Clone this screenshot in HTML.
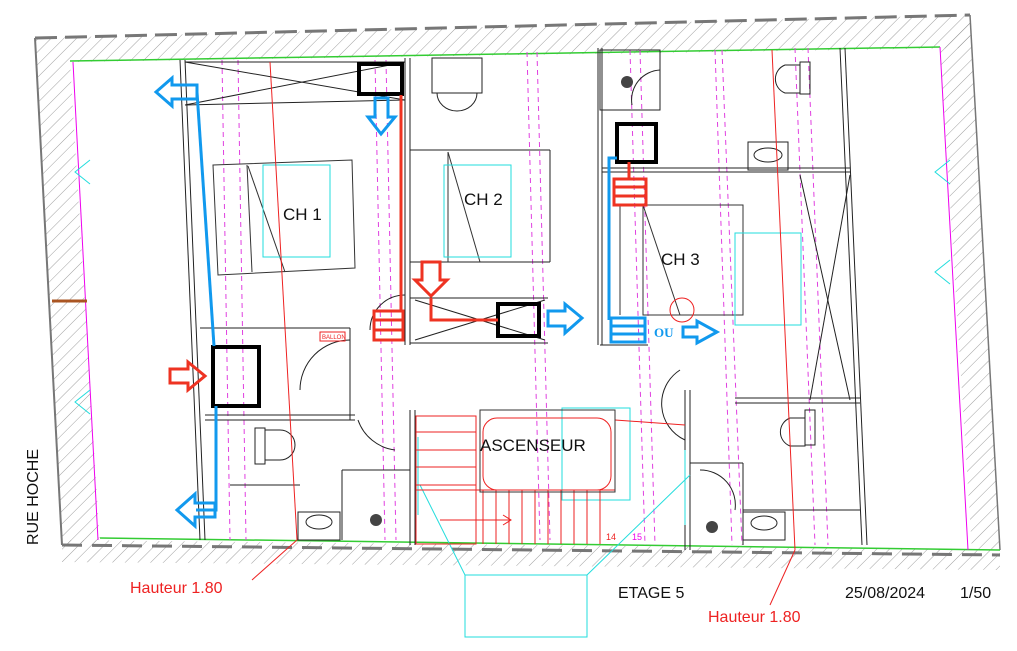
<!DOCTYPE html>
<html><head><meta charset="utf-8"><style>html,body{margin:0;padding:0;background:#fff}svg{display:block}</style></head><body>
<svg width="1017" height="651" viewBox="0 0 1017 651" xmlns="http://www.w3.org/2000/svg" font-family="Liberation Sans, sans-serif">
<defs>
<pattern id="h" width="9" height="9" patternUnits="userSpaceOnUse" patternTransform="rotate(45)"><line x1="0" y1="0" x2="0" y2="9" stroke="#888" stroke-width="0.8"/></pattern>
</defs>
<rect width="1017" height="651" fill="#fff"/>
<!-- hatched walls -->
<polygon points="35,38 970,15 970,48 70,62" fill="url(#h)"/>
<polygon points="35,38 70,62 100,545 62,545" fill="url(#h)"/>
<polygon points="940,45 970,15 1000,550 972,550" fill="url(#h)"/>
<polygon points="62,540 1000,550 1000,570 62,562" fill="url(#h)"/>
<line x1="35" y1="38" x2="970" y2="15" stroke="#777" stroke-width="3" stroke-dasharray="22,8"/>
<line x1="35" y1="38" x2="62" y2="545" stroke="#777" stroke-width="2"/>
<line x1="970" y1="15" x2="1000" y2="550" stroke="#777" stroke-width="1.5"/>
<line x1="62" y1="545" x2="1000" y2="555" stroke="#777" stroke-width="3" stroke-dasharray="20,10"/>
<!-- green lines -->
<line x1="70" y1="61" x2="940" y2="47" stroke="#3c3" stroke-width="1.5"/>
<line x1="100" y1="538" x2="1000" y2="550" stroke="#3c3" stroke-width="1.5"/>
<!-- magenta outer -->
<line x1="73" y1="62" x2="98" y2="540" stroke="#e0e" stroke-width="1"/>
<line x1="940" y1="47" x2="968" y2="550" stroke="#e0e" stroke-width="1"/>
<!-- magenta dashed verticals -->
<g stroke="#e040e0" stroke-width="1" stroke-dasharray="5,4">
<line x1="222" y1="60" x2="230" y2="540"/><line x1="238" y1="60" x2="246" y2="540"/>
<line x1="375" y1="60" x2="385" y2="540"/><line x1="386" y1="60" x2="396" y2="540"/>
<line x1="527" y1="52" x2="540" y2="540"/><line x1="537" y1="52" x2="550" y2="540"/>
<line x1="630" y1="50" x2="645" y2="545"/><line x1="640" y1="50" x2="655" y2="545"/>
<line x1="715" y1="50" x2="732" y2="545"/><line x1="722" y1="50" x2="742" y2="545"/>
<line x1="795" y1="48" x2="815" y2="545"/><line x1="808" y1="48" x2="828" y2="545"/>
</g>
<!-- walls black -->
<g stroke="#222" stroke-width="1" fill="none">
<line x1="180" y1="60" x2="200" y2="540"/><line x1="185" y1="60" x2="205" y2="540"/>
<line x1="185" y1="62" x2="405" y2="62"/><line x1="185" y1="105" x2="405" y2="100"/>
<line x1="185" y1="62" x2="405" y2="100"/><line x1="185" y1="105" x2="405" y2="62"/>
<line x1="405" y1="58" x2="405" y2="345"/><line x1="410" y1="58" x2="410" y2="345"/>
<line x1="410" y1="150" x2="550" y2="150"/><line x1="550" y1="150" x2="550" y2="262"/><line x1="410" y1="262" x2="550" y2="262"/>
<line x1="410" y1="298" x2="548" y2="298"/><line x1="410" y1="343" x2="548" y2="343"/>
<line x1="415" y1="300" x2="545" y2="340"/><line x1="415" y1="340" x2="545" y2="300"/>
<line x1="598" y1="48" x2="598" y2="345"/><line x1="602" y1="48" x2="602" y2="345"/>
<line x1="602" y1="168" x2="850" y2="168"/><line x1="602" y1="172" x2="850" y2="172"/>
<line x1="600" y1="345" x2="648" y2="345"/>
<line x1="840" y1="48" x2="862" y2="545"/><line x1="845" y1="48" x2="867" y2="545"/>
<line x1="800" y1="175" x2="850" y2="400"/><line x1="850" y1="175" x2="810" y2="400"/>
<line x1="200" y1="328" x2="350" y2="328"/><line x1="350" y1="328" x2="350" y2="420"/>
<line x1="205" y1="415" x2="355" y2="415"/><line x1="205" y1="420" x2="355" y2="420"/>
<line x1="342" y1="470" x2="410" y2="470"/><line x1="342" y1="470" x2="342" y2="540"/>
<line x1="410" y1="410" x2="410" y2="545"/><line x1="415" y1="410" x2="415" y2="545"/>
<line x1="685" y1="390" x2="685" y2="550"/><line x1="690" y1="390" x2="690" y2="550"/>
<line x1="735" y1="398" x2="860" y2="398"/><line x1="735" y1="403" x2="860" y2="403"/>
<line x1="690" y1="463" x2="743" y2="463"/><line x1="743" y1="463" x2="743" y2="545"/>
<line x1="743" y1="510" x2="860" y2="510"/>
<line x1="230" y1="485" x2="300" y2="485"/>
<rect x="432" y="58" width="50" height="35"/><path d="M437,93 A20,18 0 0 0 477,93"/>
<rect x="600" y="50" width="60" height="60"/><path d="M660,70 A30,30 0 0 0 632,105"/>
<path d="M405,295 A35,35 0 0 0 370,330"/>
<path d="M350,340 A50,50 0 0 0 300,390"/><path d="M358,420 A45,45 0 0 0 395,450"/>
<path d="M680,370 A40,40 0 0 0 685,440"/>
<path d="M700,470 A35,35 0 0 1 735,510"/>
<!-- WCs -->
<path d="M800,65 h-15 a15,15 0 0 0 0,28 h15 z"/><rect x="800" y="62" width="10" height="32"/>
<path d="M805,418 h-15 a15,15 0 0 0 0,28 h15 z"/><rect x="805" y="410" width="10" height="35"/>
<path d="M265,430 h15 a15,15 0 0 1 0,30 h-15 z"/><rect x="255" y="428" width="10" height="36"/>
<!-- sinks -->
<rect x="748" y="142" width="40" height="28"/><ellipse cx="768" cy="155" rx="14" ry="7"/>
<rect x="298" y="512" width="42" height="28"/><ellipse cx="319" cy="522" rx="13" ry="7"/>
<rect x="743" y="512" width="42" height="28"/><ellipse cx="764" cy="523" rx="13" ry="7"/>
</g>
<circle cx="627" cy="82" r="6" fill="#444"/><circle cx="376" cy="520" r="6" fill="#444"/><circle cx="712" cy="527" r="6" fill="#444"/>
<!-- beds -->
<g stroke="#333" stroke-width="1" fill="none">
<polygon points="213,165 352,160 355,268 218,275"/><line x1="247" y1="165" x2="252" y2="272"/><line x1="248" y1="166" x2="285" y2="272"/>
<line x1="448" y1="152" x2="448" y2="262"/><line x1="448" y1="152" x2="480" y2="262"/>
<rect x="643" y="205" width="100" height="110"/><line x1="643" y1="205" x2="680" y2="315"/>
<line x1="620" y1="205" x2="620" y2="315"/>
</g>
<g stroke="#2dd" stroke-width="1" fill="none">
<rect x="263" y="165" width="67" height="92"/><rect x="444" y="165" width="67" height="92"/><rect x="735" y="233" width="66" height="92"/>
<rect x="562" y="408" width="68" height="92"/>
<polygon points="465,575 587,575 587,637 465,637"/>
<line x1="465" y1="575" x2="420" y2="485"/><line x1="587" y1="575" x2="690" y2="475"/>
<line x1="418" y1="437" x2="418" y2="515"/><line x1="685" y1="450" x2="685" y2="525"/>
<path d="M90,160 l-15,12 l15,12 M90,390 l-15,12 l15,12 M950,160 l-15,12 l15,12 M950,260 l-15,12 l15,12"/>
</g>
<!-- stairs -->
<g stroke="#e22" stroke-width="1" fill="none">
<rect x="416" y="416" width="60" height="128"/>
<line x1="416" y1="432" x2="476" y2="432"/><line x1="416" y1="450" x2="476" y2="450"/><line x1="416" y1="467" x2="476" y2="467"/><line x1="416" y1="485" x2="476" y2="485"/><line x1="416" y1="490" x2="615" y2="490"/>
<line x1="483" y1="490" x2="483" y2="544"/><line x1="496" y1="490" x2="496" y2="544"/><line x1="509" y1="490" x2="509" y2="544"/><line x1="522" y1="490" x2="522" y2="544"/><line x1="535" y1="490" x2="535" y2="544"/><line x1="548" y1="490" x2="548" y2="544"/><line x1="561" y1="490" x2="561" y2="544"/><line x1="574" y1="490" x2="574" y2="544"/><line x1="587" y1="490" x2="587" y2="544"/><line x1="600" y1="490" x2="600" y2="544"/>
<line x1="440" y1="520" x2="510" y2="520"/><path d="M503,515 l8,5 l-8,5"/>
<rect x="483" y="418" width="128" height="72" rx="14"/>
<line x1="615" y1="420" x2="685" y2="425"/>
<circle cx="682" cy="310" r="12"/>
<line x1="270" y1="62" x2="297" y2="540"/><line x1="297" y1="540" x2="252" y2="580"/>
<line x1="772" y1="50" x2="795" y2="550"/><line x1="795" y1="550" x2="770" y2="605"/>
</g>
<rect x="480" y="410" width="135" height="82" fill="none" stroke="#333"/>
<rect x="320" y="332" width="25" height="9" fill="none" stroke="#e22"/><text x="322" y="339" font-size="6" fill="#e22">BALLON</text>
<text x="606" y="540" font-size="9" fill="#e22">14</text><text x="632" y="540" font-size="9" fill="#e0e">15</text>
<!-- black boxes -->
<g stroke="#000" stroke-width="4" fill="none">
<rect x="359" y="64" width="43" height="30"/><rect x="213" y="347" width="46" height="59"/><rect x="498" y="304" width="41" height="32"/><rect x="617" y="124" width="39" height="38"/>
</g>
<!-- red piping -->
<g stroke="#e32" stroke-width="3" fill="none">
<line x1="401" y1="95" x2="401" y2="311"/>
<path d="M431,298 V320 H498"/>
<line x1="629" y1="162" x2="629" y2="178"/>
<rect x="374" y="311" width="29" height="29"/><line x1="374" y1="320" x2="403" y2="320"/><line x1="374" y1="330" x2="403" y2="330"/>
<rect x="614" y="179" width="32" height="26"/><line x1="614" y1="187" x2="646" y2="187"/><line x1="614" y1="196" x2="646" y2="196"/>
<polygon points="422,262 440,262 440,280 447,280 431,296 415,280 422,280"/>
<polygon points="170,369 188,369 188,362 205,376 188,390 188,383 170,383"/>
</g>
<!-- blue piping -->
<g stroke="#19e" stroke-width="3" fill="none">
<polyline points="197,92 214,346"/><polyline points="216,406 216,510 196,510"/>
<polyline points="617,158 609,158 609,320"/>
<rect x="611" y="318" width="34" height="24"/><line x1="611" y1="326" x2="645" y2="326"/><line x1="611" y1="334" x2="645" y2="334"/>
<polygon points="156,92 172,78 172,85 197,85 197,99 172,99 172,106"/>
<polygon points="375,98 388,98 388,117 395,117 381,134 368,117 375,117"/>
<polygon points="548,311 565,311 565,304 582,318 565,333 565,326 548,326"/>
<polygon points="177,510 195,494 195,503 215,503 215,517 195,517 195,526"/>
<polygon points="683,327 697,327 697,321 717,332 697,343 697,337 683,337"/>
</g>
<text x="654" y="337" font-size="13" font-weight="bold" fill="#19e" font-family="Liberation Serif, serif">OU</text>
<!-- labels -->
<g fill="#111" font-size="17">
<text x="283" y="220">CH 1</text><text x="464" y="205">CH 2</text><text x="661" y="265">CH 3</text>
<text x="480" y="451">ASCENSEUR</text>
<text x="618" y="598" font-size="16">ETAGE 5</text>
<text x="845" y="598" font-size="16">25/08/2024</text><text x="960" y="598" font-size="16">1/50</text>
<text transform="translate(38,545) rotate(-90)" font-size="16">RUE HOCHE</text>
</g>
<text x="130" y="593" font-size="16" fill="#e22">Hauteur 1.80</text>
<text x="708" y="622" font-size="16" fill="#e22">Hauteur 1.80</text>
<line x1="52" y1="301" x2="87" y2="301" stroke="#a52" stroke-width="3"/>
</svg>
</body></html>
